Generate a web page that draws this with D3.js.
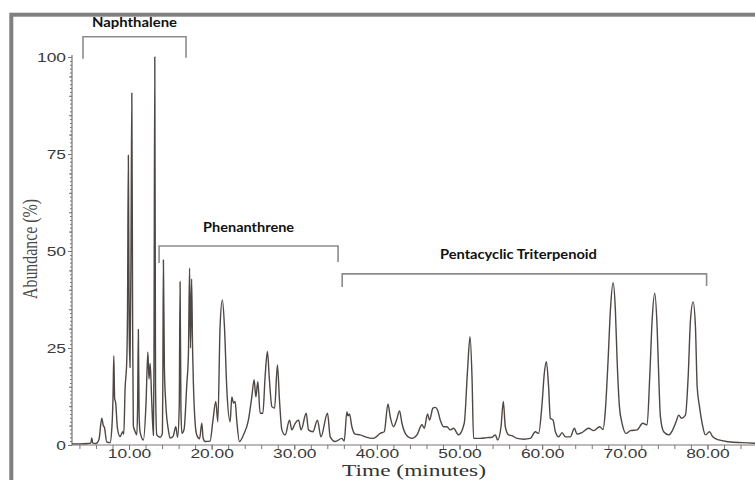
<!DOCTYPE html>
<html>
<head>
<meta charset="utf-8">
<script src="https://cdn.jsdelivr.net/npm/d3@7"></script>
<style>
  body { margin: 0; background: #fff; }
</style>
</head>
<body>
<svg id="chromatogram" width="755" height="480"></svg>
<script>
// retention time (minutes) and relative abundance (%)
const times = [
  3.10, 4.07, 5.04, 5.37, 5.49, 5.61, 6.00, 6.37, 6.70, 6.89, 7.03, 7.30, 7.70,
  7.94, 8.07, 8.16, 8.26, 8.39, 8.59, 8.91, 9.24, 9.37, 9.52, 9.73, 9.82, 9.92,
  10.02, 10.12, 10.24, 10.34, 10.44, 10.52, 10.73, 10.94, 11.04, 11.13, 11.22, 11.34,
  11.74, 12.06, 12.28, 12.42, 12.56, 12.75, 12.95, 13.02, 13.12, 13.21, 13.36, 13.76,
  14.04, 14.09, 14.16, 14.28, 14.45, 14.76, 14.97, 15.33, 15.66, 15.88, 16.08, 16.18,
  16.28, 16.39, 16.66, 16.99, 17.19, 17.33, 17.44, 17.58, 17.69, 17.79, 18.00, 18.20,
  18.54, 18.81, 18.97, 19.21, 19.81, 20.14, 20.50, 20.75, 21.02, 21.30, 21.55, 21.84,
  22.24, 22.44, 22.64, 22.84, 23.05, 23.36, 23.85, 24.45, 24.86, 25.14, 25.35, 25.59,
  25.87, 26.20, 26.47, 26.75, 26.99, 27.29, 27.62, 27.96, 28.21, 28.50, 28.90, 29.42,
  29.71, 30.11, 30.51, 30.83, 31.44, 31.72, 32.25, 32.81, 33.22, 34.02, 34.35, 34.95,
  35.76, 36.04, 36.37, 36.50, 36.68, 36.97, 37.37, 37.98, 38.59, 39.59, 40.40, 40.89,
  41.34, 41.61, 42.01, 42.39, 42.74, 43.03, 43.55, 44.24, 44.85, 45.45, 45.73, 46.13,
  46.37, 46.78, 47.06, 47.34, 47.67, 48.07, 48.48, 48.88, 49.28, 49.88, 50.57, 50.97,
  51.27, 51.51, 51.70, 52.51, 53.32, 53.93, 54.33, 54.61, 55.02, 55.30, 55.54, 55.94,
  56.35, 56.96, 57.76, 58.57, 59.17, 59.57, 59.99, 60.26, 60.51, 60.78, 60.99, 61.32,
  61.60, 62.00, 62.41, 62.81, 63.41, 63.90, 64.22, 64.83, 65.63, 66.23, 66.96, 67.37,
  67.65, 67.98, 68.26, 68.58, 68.86, 69.07, 69.35, 69.67, 70.16, 70.68, 71.49, 72.17,
  72.70, 73.02, 73.31, 73.62, 73.91, 74.11, 74.31, 74.71, 75.32, 75.80, 76.21, 76.53,
  76.86, 77.34, 77.67, 77.95, 78.27, 78.55, 78.76, 79.04, 79.36, 79.76, 80.25, 80.65,
  81.37, 82.58, 84.20, 86.40
];
const abundance = [
  0.3, 0.3, 0.4, 0.5, 1.8, 0.5, 0.4, 1.5, 6.9, 5.0, 4.5, 0.8, 0.6,
  5.0, 12.9, 23.0, 12.0, 10.8, 4.5, 2.2, 3.4, 2.8, 14.2, 21.9, 35.0, 74.7,
  30.0, 20.0, 50.0, 90.7, 30.0, 5.0, 3.5, 2.6, 10.0, 29.8, 8.0, 3.4,
  1.3, 10.8, 24.0, 17.0, 21.0, 11.2, 2.5, 20.0, 100.0, 15.0, 2.6, 2.0,
  3.0, 15.0, 47.7, 20.0, 10.7, 3.9, 1.8, 2.2, 4.7, 2.0, 10.0, 42.1,
  10.0, 3.0, 4.0, 15.5, 23.6, 45.6, 25.0, 42.8, 25.0, 16.0, 5.7, 2.6,
  1.6, 5.6, 1.8, 0.9, 1.0, 6.0, 11.2, 6.0, 30.5, 37.4, 30.5, 14.2,
  6.0, 12.4, 10.8, 11.2, 6.0, 0.9, 2.6, 6.4, 12.4, 16.8, 12.4, 16.3,
  8.2, 8.2, 17.6, 24.1, 16.8, 9.9, 9.5, 20.6, 11.6, 3.9, 2.6, 6.4,
  3.9, 5.6, 6.4, 3.9, 8.2, 3.9, 3.4, 6.4, 2.1, 8.2, 2.1, 0.9,
  1.7, 1.0, 8.6, 7.5, 8.0, 4.7, 2.8, 2.6, 2.1, 1.7, 3.0, 3.4,
  10.6, 7.3, 4.7, 6.5, 8.8, 5.6, 2.6, 1.7, 2.6, 5.2, 4.3, 8.0,
  6.4, 9.5, 9.7, 9.0, 6.4, 4.7, 4.7, 3.9, 4.3, 2.6, 5.6, 19.3,
  27.9, 17.6, 1.7, 1.7, 1.9, 2.0, 2.6, 1.3, 4.7, 11.2, 4.7, 2.6,
  2.4, 1.7, 1.5, 1.7, 3.4, 3.0, 10.7, 18.5, 21.5, 15.0, 6.9, 6.4,
  3.4, 2.1, 3.2, 2.1, 2.1, 4.3, 2.8, 3.2, 4.3, 3.7, 4.7, 4.0,
  9.0, 21.9, 34.8, 41.8, 34.8, 21.9, 9.9, 5.6, 3.0, 3.7, 3.9, 5.6,
  5.2, 17.6, 32.2, 39.1, 30.5, 17.6, 7.3, 3.4, 2.6, 3.9, 6.0, 7.7,
  6.9, 7.7, 17.6, 32.2, 36.9, 30.5, 15.0, 9.9, 5.6, 2.6, 3.4, 2.1,
  1.3, 0.85, 0.6, 0.4
];

// compound classes marked with brackets: name, time range, bracket level (%)
const groupNames = ['Naphthalene', 'Phenanthrene', 'Pentacyclic Triterpenoid'];
const groupStart = [4.43, 13.64, 35.8];
const groupEnd = [16.9, 35.3, 79.9];
const groupLevel = [105.2, 51.3, 44.1];

const yMajorTicks = [0, 25, 50, 75, 100];
const xLabelTicks = [10, 20, 30, 40, 50, 60, 70, 80];

const svg = d3.select('#chromatogram');
const width = +svg.attr('width');
const height = +svg.attr('height');

const render = () => {
  const data = times.map((t, i) => ({ t, a: abundance[i] }));

  // gray frame, only top and left edges are inside the picture
  svg.append('rect')
    .attr('x', 11.3).attr('y', 14.7)
    .attr('width', 900).attr('height', 700)
    .attr('fill', 'none')
    .attr('stroke', '#808080')
    .attr('stroke-width', 4);

  const xScale = d3.scaleLinear()
    .domain([3.1, 86])
    .range([72, 757]);

  const yScale = d3.scaleLinear()
    .domain([0, 100])
    .range([445, 57]);

  const textScale = 'scale(1.45,1)';

  // y axis: dense minor ticks + labelled majors
  const yMinor = svg.append('g')
    .attr('transform', 'translate(72,0)')
    .call(d3.axisLeft(yScale).tickValues(d3.range(0, 101, 1)).tickSize(2).tickFormat(''));
  yMinor.select('.domain').attr('d', `M0,${yScale(0)}V${yScale(100) - 2}`);

  svg.append('g')
    .attr('transform', 'translate(72,0)')
    .call(d3.axisLeft(yScale).tickValues(d3.range(0, 101, 5)).tickSize(3).tickFormat(''))
    .select('.domain').remove();

  const yMajor = svg.append('g')
    .attr('transform', 'translate(72,0)')
    .call(d3.axisLeft(yScale).tickValues(yMajorTicks).tickSize(4));
  yMajor.select('.domain').remove();
  yMajor.selectAll('text')
    .attr('x', 0).attr('dy', '0.35em')
    .attr('transform', `translate(-6,0) ${textScale}`);

  // x axis: ticks every 2 min, labels every 10
  const xMinor = svg.append('g')
    .attr('transform', `translate(0,${yScale(0)})`)
    .call(d3.axisBottom(xScale).tickValues(d3.range(4, 87, 2)).tickSize(4).tickFormat(''));
  xMinor.select('.domain').attr('d', `M${xScale(3.1)},0H${width}`);

  const xMajor = svg.append('g')
    .attr('transform', `translate(0,${yScale(0)})`)
    .call(d3.axisBottom(xScale).tickValues(xLabelTicks).tickSize(5).tickFormat(d3.format('.2f')));
  xMajor.select('.domain').remove();
  xMajor.selectAll('text')
    .attr('y', 13.5).attr('dy', 0)
    .attr('transform', textScale);

  svg.selectAll('.tick line').attr('stroke', '#777');
  svg.selectAll('.domain').attr('stroke', '#777').attr('stroke-width', 1.2);
  svg.selectAll('.tick text')
    .attr('font-family', '"Liberation Sans", Arial, sans-serif')
    .attr('font-size', '12px')
    .attr('fill', '#3a3a3a');

  // axis titles
  svg.append('text')
    .attr('transform', 'translate(37,249) rotate(-90)')
    .attr('text-anchor', 'middle')
    .attr('font-family', '"Liberation Serif", "Times New Roman", serif')
    .attr('font-size', '20px')
    .attr('fill', '#4a4a4a')
    .attr('textLength', 100)
    .attr('lengthAdjust', 'spacingAndGlyphs')
    .text('Abundance (%)');

  svg.append('text')
    .attr('x', 342).attr('y', 476)
    .attr('font-family', '"Liberation Serif", "Times New Roman", serif')
    .attr('font-size', '17px')
    .attr('fill', '#333')
    .attr('textLength', 144)
    .attr('lengthAdjust', 'spacingAndGlyphs')
    .text('Time (minutes)');

  // the chromatogram trace
  const line = d3.line()
    .x(d => xScale(d.t))
    .y(d => yScale(d.a))
    .curve(d3.curveMonotoneX);

  svg.append('path')
    .datum(data)
    .attr('fill', 'none')
    .attr('stroke', '#4e4744')
    .attr('stroke-width', 1.4)
    .attr('stroke-linejoin', 'round')
    .attr('d', line);

  // brackets for the compound classes
  const legLen = [22, 17, 13];
  const labelW = [85, 91, 157];
  const labelGap = [10, 14, 15];
  groupNames.forEach((name, i) => {
    const x0 = xScale(groupStart[i]);
    const x1 = xScale(groupEnd[i]);
    const y = yScale(groupLevel[i]);
    svg.append('path')
      .attr('d', `M${x0},${y + legLen[i]}V${y}H${x1}V${y + legLen[i] - 1}`)
      .attr('fill', 'none')
      .attr('stroke', '#8c8c8c')
      .attr('stroke-width', 1.6);
    svg.append('text')
      .attr('x', (x0 + x1) / 2 - (i === 2 ? 6 : 0))
      .attr('y', y - labelGap[i])
      .attr('text-anchor', 'middle')
      .attr('font-family', 'Lato, "Open Sans", sans-serif')
      .attr('font-weight', 'bold')
      .attr('font-size', '14px')
      .attr('fill', '#111')
      .attr('textLength', labelW[i])
      .attr('lengthAdjust', 'spacingAndGlyphs')
      .text(name);
  });
};

render();
</script>
</body>
</html>
